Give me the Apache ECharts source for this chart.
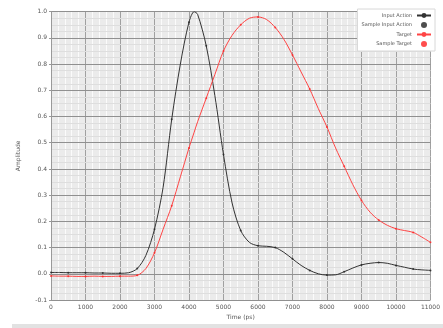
<!DOCTYPE html>
<html>
<head>
<meta charset="utf-8">
<script src="https://cdn.jsdelivr.net/npm/echarts@6/dist/echarts.min.js"></script>
<style>
html,body{margin:0;padding:0;background:#fff;}
#c{width:443px;height:328px;}
</style>
</head>
<body>
<div id="c"></div>
<script>
// Time axis (ps)
var timePs = [0,250,500,750,1000,1250,1500,1750,2000,2250,2500,2750,3000,3250,3500,3750,4000,4150,4250,4500,4750,5000,5250,5500,5750,6000,6250,6500,6750,7000,7250,7500,7750,8000,8250,8500,8750,9000,9250,9500,9750,10000,10250,10500,10750,11000];
var inputAction = [0.005,0.005,0.004,0.004,0.004,0.003,0.003,0.002,0.002,0.004,0.02,0.07,0.17,0.33,0.59,0.80,0.96,1.0,0.99,0.87,0.68,0.455,0.27,0.165,0.12,0.107,0.105,0.10,0.082,0.057,0.032,0.013,0.0,-0.005,-0.004,0.008,0.022,0.034,0.040,0.043,0.040,0.032,0.025,0.018,0.015,0.013];
var target = [-0.008,-0.009,-0.009,-0.01,-0.01,-0.009,-0.01,-0.01,-0.009,-0.009,-0.006,0.02,0.08,0.17,0.26,0.37,0.48,0.54,0.58,0.67,0.76,0.85,0.91,0.95,0.975,0.98,0.97,0.94,0.895,0.835,0.77,0.705,0.63,0.56,0.48,0.41,0.34,0.28,0.235,0.205,0.185,0.172,0.165,0.158,0.14,0.12];
var sampleIdx = [0,2,4,6,8,10,12,14,16,19,21,23,25,27,29,31,33,35,37,39,41,43,45];
var seriesNames = ['Input Action','Sample Input Action','Target','Sample Target'];
var xTicks = {min:0, max:11000, interval:1000};
var yTicks = {min:-0.1, max:1.0, interval:0.1};

function pairs(xs, ys){ return xs.map(function(x,i){ return [x, ys[i]]; }); }
function pick(xs, ys, idx){ return idx.map(function(i){ return [xs[i], ys[i]]; }); }

var chart = echarts.init(document.getElementById('c'), null, {renderer:'canvas'});
chart.setOption({
  animation:false,
  backgroundColor:'#fff',
  textStyle:{fontFamily:'DejaVu Sans'},
  grid:{left:51, right:7, top:11.7, bottom:28, show:true, backgroundColor:'#ebebeb', borderColor:'#cfcfcf', borderWidth:0},
  legend:{
    orient:'vertical', right:8, top:9, align:'right',
    backgroundColor:'#fff', borderColor:'#d8d8d8', borderWidth:1,
    padding:[4,3,4,4], itemGap:4, itemWidth:14, itemHeight:6,
    textStyle:{fontSize:5, color:'#555'},
    data:seriesNames
  },
  xAxis:{
    type:'value', min:xTicks.min, max:xTicks.max, interval:xTicks.interval, z:1,
    name:'Time (ps)', nameLocation:'middle', nameGap:12,
    nameTextStyle:{fontSize:6, color:'#555'},
    axisLine:{show:true, lineStyle:{color:'#999'}},
    axisTick:{show:true, length:2, lineStyle:{color:'#999'}},
    axisLabel:{fontSize:6, color:'#555', margin:4, formatter:function(v){ return String(v); }},
    splitLine:{show:true, lineStyle:{color:'#a0a0a0', width:1}},
    minorTick:{show:false, splitNumber:5},
    minorSplitLine:{show:true, lineStyle:{color:'#fbfbfb', width:1}}
  },
  yAxis:{
    type:'value', min:yTicks.min, max:yTicks.max, interval:yTicks.interval, z:2,
    name:'Amplitude', nameLocation:'middle', nameGap:30, nameRotate:90,
    nameTextStyle:{fontSize:6, color:'#555'},
    axisLine:{show:true, lineStyle:{color:'#999'}},
    axisTick:{show:true, length:2, lineStyle:{color:'#999'}},
    axisLabel:{fontSize:6, color:'#555', margin:4, formatter:function(v){ return v.toFixed(1); }},
    splitLine:{show:true, lineStyle:{color:'#909090', width:1}},
    minorTick:{show:false, splitNumber:4},
    minorSplitLine:{show:true, lineStyle:{color:'#dedede', width:1}}
  },
  series:[
    {name:seriesNames[0], type:'line', data:pairs(timePs, inputAction), smooth:0.3, showSymbol:false, symbol:'circle', symbolSize:3,
     lineStyle:{color:'#333', width:1}, itemStyle:{color:'#333'}, z:3},
    {name:seriesNames[1], type:'scatter', data:pick(timePs, inputAction, sampleIdx), symbol:'circle', symbolSize:2,
     itemStyle:{color:'#222'}, z:4},
    {name:seriesNames[2], type:'line', data:pairs(timePs, target), smooth:0.3, showSymbol:false, symbol:'circle', symbolSize:3,
     lineStyle:{color:'#ff4444', width:1}, itemStyle:{color:'#ff4444'}, z:3},
    {name:seriesNames[3], type:'scatter', data:pick(timePs, target, sampleIdx), symbol:'circle', symbolSize:2,
     itemStyle:{color:'#ff2020'}, z:4}
  ],
  graphic:[{type:'rect', shape:{x:12, y:324, width:431, height:4}, style:{fill:'#e2e2e2'}, silent:true}]
});
</script>
</body>
</html>
